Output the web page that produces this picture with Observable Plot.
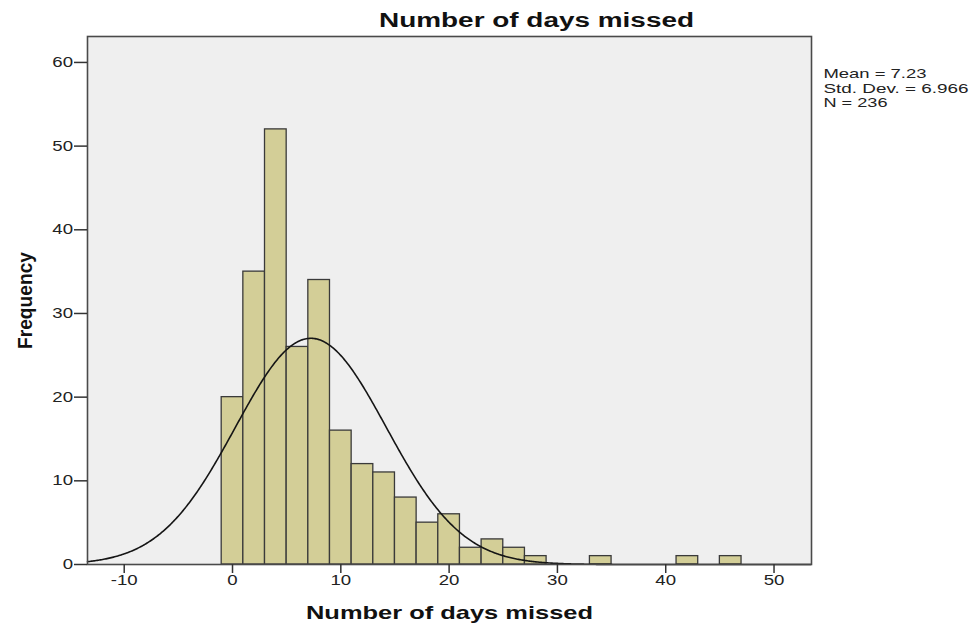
<!DOCTYPE html>
<html>
<head>
<meta charset="utf-8">
<script src="https://cdn.jsdelivr.net/npm/d3@7"></script>
<script src="https://cdn.jsdelivr.net/npm/@observablehq/plot@0.6"></script>
<style>
  html, body { margin: 0; padding: 0; background: #ffffff; }
</style>
</head>
<body>
<script>
// ---- Data ----
const titleText = "Number of days missed";
const xLabel = "Number of days missed";
const yLabel = "Frequency";
const binWidth = 2;
const binStarts = [-1, 1, 3, 5, 7, 9, 11, 13, 15, 17, 19, 21, 23, 25, 27, 29, 31, 33, 35, 37, 39, 41, 43, 45];
const frequencies = [20, 35, 52, 26, 34, 16, 12, 11, 8, 5, 6, 2, 3, 2, 1, 0, 0, 1, 0, 0, 0, 1, 0, 1];
const xTicks = [-10, 0, 10, 20, 30, 40, 50];
const yTicks = [0, 10, 20, 30, 40, 50, 60];
const meanValue = 7.23;
const sdValue = 6.966;
const nValue = 236;
const xDomain = [-13.39, 53.46];
const yDomain = [0, 63.1];

// table for bars (zero bins are not drawn)
const bins = binStarts.map((s, i) => ({x1: s, x2: s + binWidth, count: frequencies[i]})).filter(d => d.count > 0);

// fitted normal curve (scaled to counts) from the reported Mean / Std. Dev. / N
const curveXs = d3.range(xDomain[0], xDomain[1] + 0.001, 0.1);
const normalCurve = curveXs.map(x => ({
  x,
  y: nValue * binWidth * Math.exp(-0.5 * ((x - meanValue) / sdValue) ** 2) / (sdValue * Math.sqrt(2 * Math.PI))
}));

const statsLines = [
  `Mean = ${meanValue}`,
  `Std. Dev. = ${sdValue}`,
  `N = ${nValue}`
];

const chart = Plot.plot({
  width: 973,
  height: 629,
  marginLeft: 87,
  marginRight: 162,
  marginTop: 36,
  marginBottom: 65,
  style: {fontFamily: "'Liberation Sans', Arial, sans-serif", fontSize: "14px", color: "#222", background: "#ffffff", overflow: "visible"},
  x: {domain: xDomain},
  y: {domain: yDomain},
  marks: [
    Plot.frame({fill: "#efefef", stroke: "none"}),
    Plot.rectY(bins, {x1: "x1", x2: "x2", y1: 0, y2: "count", fill: "#d3ce97", stroke: "#3a3a3a", strokeWidth: 1.3}),
    Plot.line(normalCurve, {x: "x", y: "y", stroke: "#151515", strokeWidth: 1.6}),
    Plot.frame({stroke: "#4a4a4a", strokeWidth: 1.6}),
    Plot.axisX({ticks: xTicks, tickFormat: d => String(d), tickSize: 9, tickPadding: 2, label: null, fontSize: 14, stroke: "#333", strokeWidth: 1.5}),
    Plot.axisY({ticks: yTicks, tickFormat: d => String(d), tickSize: 13, tickPadding: 1.5, label: null, fontSize: 14, stroke: "#333", strokeWidth: 1.5}),
    Plot.text([titleText], {text: d => d, frameAnchor: "top", dx: 87, dy: -16, lineAnchor: "middle", fontSize: 20, fontWeight: "bold", fill: "#111"}),
    Plot.text([xLabel], {text: d => d, frameAnchor: "bottom", dx: 0, dy: 49, lineAnchor: "middle", fontSize: 18.5, fontWeight: "bold", fill: "#111"}),
    Plot.text([yLabel], {text: d => d, frameAnchor: "left", textAnchor: "middle", dx: -62, dy: 0, rotate: -90, lineAnchor: "middle", fontSize: 21, fontWeight: "bold", fill: "#111"}),
    Plot.text([statsLines[0]], {text: d => d, frameAnchor: "top-right", textAnchor: "start", lineAnchor: "middle", dx: 12, dy: 37.5, fontSize: 13, fill: "#222"}),
    Plot.text([statsLines[1]], {text: d => d, frameAnchor: "top-right", textAnchor: "start", lineAnchor: "middle", dx: 12, dy: 52, fontSize: 13, fill: "#222"}),
    Plot.text([statsLines[2]], {text: d => d, frameAnchor: "top-right", textAnchor: "start", lineAnchor: "middle", dx: 12, dy: 66, fontSize: 13, fill: "#222"})
  ]
});
document.body.appendChild(chart);

// horizontal stretch of glyphs to match the reference's wide lettering
const svg = d3.select(chart.tagName.toLowerCase() === "svg" ? chart : chart.querySelector("svg"));
function fit(str, len, idx = 0) {
  const nodes = svg.selectAll("text").filter(function() { return this.textContent === str; }).nodes();
  if (nodes[idx]) {
    nodes[idx].setAttribute("textLength", len);
    nodes[idx].setAttribute("lengthAdjust", "spacingAndGlyphs");
  }
}
fit(titleText, 315, 0);
fit(xLabel, 287, 1);
fit(yLabel, 97, 0);
fit(statsLines[0], 103);
fit(statsLines[1], 145);
fit(statsLines[2], 64);
svg.selectAll('g[aria-label="x-axis tick label"] text, g[aria-label="y-axis tick label"] text').each(function() {
  const l = this.getComputedTextLength();
  this.setAttribute("textLength", l * 1.33);
  this.setAttribute("lengthAdjust", "spacingAndGlyphs");
});
</script>
</body>
</html>
